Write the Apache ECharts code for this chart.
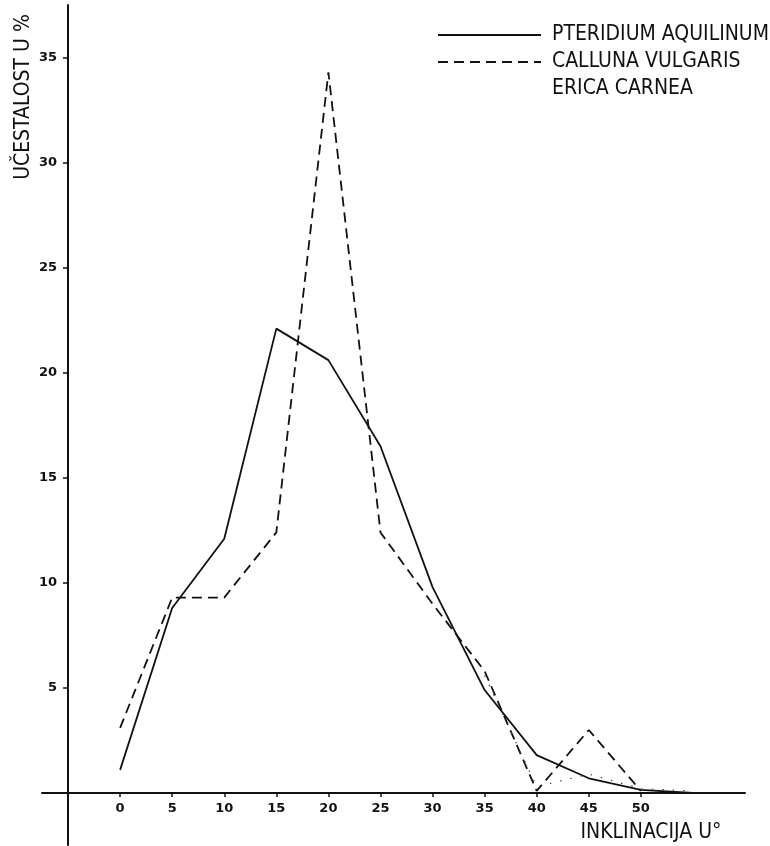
<!DOCTYPE html>
<html><head><meta charset="utf-8">
<script src="https://cdn.jsdelivr.net/npm/echarts@6/dist/echarts.min.js"></script>
<style>html,body{margin:0;padding:0;background:#fff}#c{width:770px;height:846px}</style>
</head><body><div id="c"></div>
<script>
const seriesNames = ['PTERIDIUM AQUILINUM', 'CALLUNA VULGARIS', 'ERICA CARNEA'];
const inclination = [0, 5, 10, 15, 20, 25, 30, 35, 40, 45, 50, 55];
const pteridium = [1.1, 8.8, 12.1, 22.1, 20.6, 16.5, 9.8, 4.9, 1.8, 0.7, 0.15, 0];
const calluna = [3.1, 9.3, 9.3, 12.4, 34.3, 12.4, 9.0, 5.8, 0.1, 3.0, 0.1, null];
const erica = [null, null, null, null, null, null, null, 5.6, 0.3, 0.9, 0.2, 0.1];
const xTickValues = [0, 5, 10, 15, 20, 25, 30, 35, 40, 45, 50];
const yTickValues = [5, 10, 15, 20, 25, 30, 35];
const xName = 'INKLINACIJA U°';
const yName = 'UČESTALOST U %';

const pairs = arr => inclination.map((x, i) => [x, arr[i]]);
const FONT = 'DejaVu Sans Condensed';
const INK = '#111';

const chart = echarts.init(document.getElementById('c'));
chart.setOption({
  animation: false,
  backgroundColor: '#fff',
  grid: [
    { left: 42, top: 5, width: 703, height: 788, containLabel: false, outerBoundsMode: 'none' },
    { left: 42, top: 793, width: 703, height: 52, containLabel: false, outerBoundsMode: 'none' }
  ],
  legend: {
    orient: 'vertical', left: 432, top: 15,
    itemWidth: 103, itemHeight: 14, itemGap: -3,
    selectedMode: false,
    itemStyle: { opacity: 0 },
    textStyle: { fontFamily: FONT, fontSize: 21, lineHeight: 12, color: INK, padding: [0, 0, 18, 6] },
    data: [
      { name: seriesNames[0] },
      { name: seriesNames[1] },
      { name: seriesNames[2], lineStyle: { opacity: 0 }, itemStyle: { opacity: 0 } }
    ]
  },
  xAxis: [
    {
      gridIndex: 0, type: 'value', min: -7.5, max: 60,
      splitLine: { show: false },
      axisLine: { onZero: false, lineStyle: { color: INK, width: 2 } },
      axisTick: { customValues: xTickValues, length: 4, lineStyle: { color: INK, width: 1.5 } },
      axisLabel: { customValues: xTickValues, margin: 9, fontFamily: 'DejaVu Sans', fontWeight: 'bold', fontSize: 13, color: INK }
    },
    {
      gridIndex: 1, type: 'value', min: -7.5, max: 60, show: false
    }
  ],
  yAxis: [
    {
      gridIndex: 0, type: 'value', min: 0, max: 37.5, offset: -26,
      splitLine: { show: false },
      axisLine: { onZero: false, lineStyle: { color: INK, width: 2 } },
      axisTick: { customValues: yTickValues, length: 5, lineStyle: { color: INK, width: 1.5 } },
      axisLabel: { customValues: yTickValues, margin: 11, fontFamily: 'DejaVu Sans', fontWeight: 'bold', fontSize: 13, color: INK }
    },
    {
      gridIndex: 1, type: 'value', min: -2.5, max: 0, offset: -26,
      splitLine: { show: false },
      axisLine: { onZero: false, lineStyle: { color: INK, width: 2 } },
      axisTick: { show: false },
      axisLabel: { show: false }
    }
  ],
  graphic: [
    { type: 'text', x: 24, y: 97, rotation: Math.PI / 2,
      style: { text: yName, fontFamily: FONT, fontSize: 21, fill: INK, align: 'center', verticalAlign: 'middle' } },
    { type: 'text', x: 651, y: 833,
      style: { text: xName, fontFamily: FONT, fontSize: 21, fill: INK, align: 'center', verticalAlign: 'middle' } }
  ],
  series: [
    { name: seriesNames[0], type: 'line', symbol: 'none', data: pairs(pteridium),
      itemStyle: { color: INK }, lineStyle: { color: INK, width: 1.8, type: 'solid' } },
    { name: seriesNames[1], type: 'line', symbol: 'none', data: pairs(calluna),
      itemStyle: { color: INK }, lineStyle: { color: INK, width: 1.8, type: [10, 6] } },
    { name: seriesNames[2], type: 'line', symbol: 'none', data: pairs(erica),
      itemStyle: { color: '#444' }, lineStyle: { color: '#444', width: 1.2, type: [1.5, 9] } }
  ]
});
</script></body></html>
